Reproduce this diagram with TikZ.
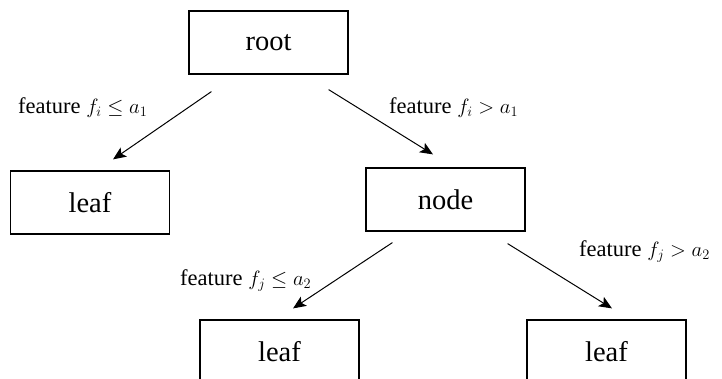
\documentclass[tikz,border=0pt]{standalone}
\usepackage{fontspec}
\setmainfont{Liberation Serif}
\usetikzlibrary{arrows.meta}
\begin{document}
\begin{tikzpicture}[x=1pt,y=-1pt,
  box/.style={draw,line width=1.2pt,minimum width=159pt,minimum height=63pt,inner sep=0pt,
    font=\fontsize{28.5}{31}\selectfont},
  lbl/.style={inner sep=0pt,anchor=base west,font=\fontsize{22.5}{25}\selectfont},
  arr/.style={line width=1pt,-{Stealth[length=13pt,width=11pt,inset=3pt]}}]
\clip (0,0) rectangle (722,378);
\fill[white] (0,0) rectangle (722,378);
\node[box] (root) at (268.5,42.5) {root};
\node[box] (leafA) at (90,202.5) {leaf};
\node[box] (mid) at (445.5,199.5) {node};
\node[box] (leafB) at (279.5,351.5) {leaf};
\node[box] (leafC) at (606.5,351.5) {leaf};
\draw[arr] ([xshift=23pt,yshift=-17pt]root.south west) -- ([xshift=23pt,yshift=11pt]leafA.north);
\draw[arr] ([xshift=-20pt,yshift=-15pt]root.south east) -- ([xshift=-12.5pt,yshift=13pt]mid.north);
\draw[arr] ([xshift=27pt,yshift=-11pt]mid.south west) -- ([xshift=13.5pt,yshift=11pt]leafB.north);
\draw[arr] ([xshift=-18pt,yshift=-12pt]mid.south east) -- ([xshift=5.5pt,yshift=11pt]leafC.north);
\node[lbl] (l1) at (18,113) {feature $f_i \leq a_1$};
\node[lbl] (l2) at (389,113) {feature $f_i > a_1$};
\node[lbl] (l3) at (180,285) {feature $f_j \leq a_2$};
\node[lbl] (l4) at (579,256) {feature $f_j > a_2$};
\end{tikzpicture}
\end{document}
